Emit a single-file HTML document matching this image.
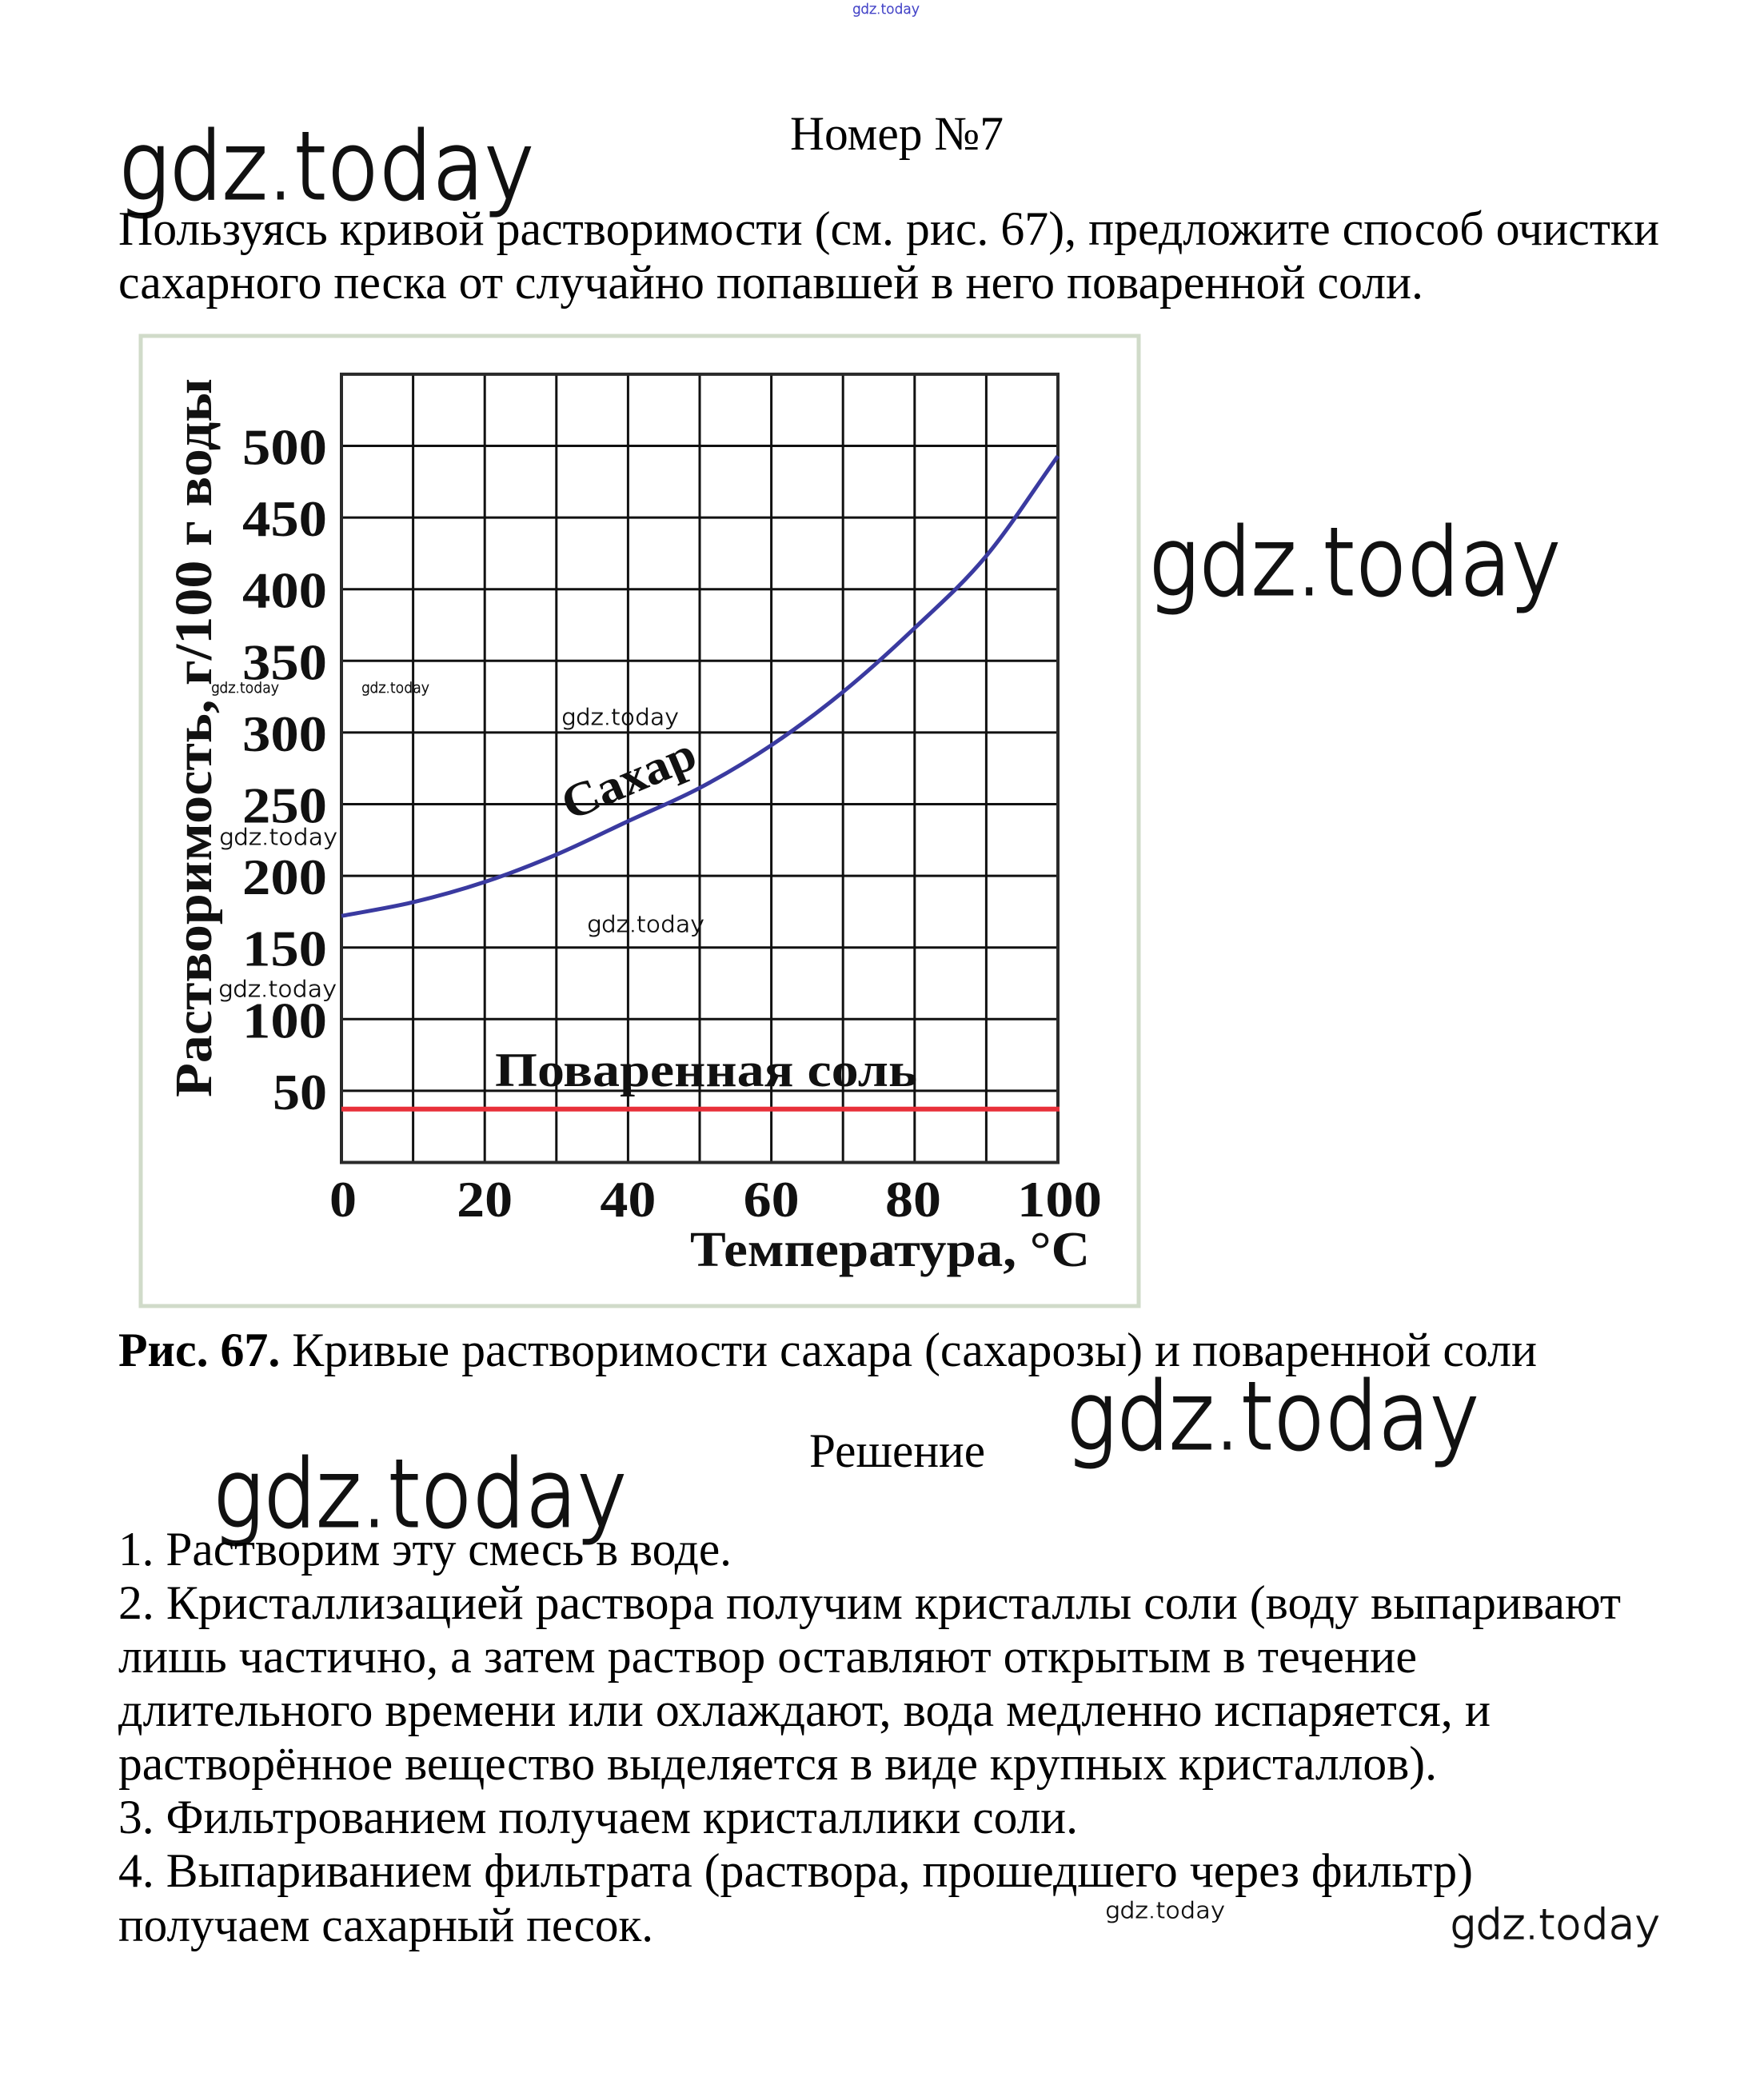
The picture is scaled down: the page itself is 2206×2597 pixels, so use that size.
<!DOCTYPE html>
<html>
<head>
<meta charset="utf-8">
<style>
html,body{margin:0;padding:0;background:#fff;}
svg{display:block;}
.t{font-family:"Liberation Serif","DejaVu Serif",serif;font-size:60px;fill:#000;}
.c{font-family:"Liberation Serif","DejaVu Serif",serif;font-weight:bold;fill:#111;}
.w{font-family:"DejaVu Sans","Liberation Sans",sans-serif;font-weight:200;fill:#111;stroke:#111;}
.wb{stroke-width:3px;}
.wm{stroke-width:1.6px;}
.ws{stroke-width:0.8px;}
</style>
</head>
<body>
<svg width="2206" height="2597" viewBox="0 0 2206 2597" xmlns="http://www.w3.org/2000/svg">
<rect x="0" y="0" width="2206" height="2597" fill="#fff"/>

<!-- top tiny watermark -->
<text class="w ws" x="1066" y="17" font-size="17" textLength="84" lengthAdjust="spacingAndGlyphs" style="fill:#4646c8;stroke:#4646c8">gdz.today</text>

<!-- header -->
<text class="t" x="988" y="187" textLength="267" lengthAdjust="spacingAndGlyphs">Номер №7</text>
<text class="w wb" x="148" y="248" font-size="116" textLength="520" lengthAdjust="spacingAndGlyphs">gdz.today</text>
<text class="t" x="148" y="306" textLength="1927" lengthAdjust="spacingAndGlyphs">Пользуясь кривой растворимости (см. рис. 67), предложите способ очистки</text>
<text class="t" x="148" y="373" textLength="1632" lengthAdjust="spacingAndGlyphs">сахарного песка от случайно попавшей в него поваренной соли.</text>

<!-- chart frame -->
<rect x="176" y="420" width="1248" height="1213" fill="#fff" stroke="#d0dbc9" stroke-width="5"/>

<!-- grid -->
<g stroke="#111" stroke-width="3">
<line x1="516.6" y1="467.9" x2="516.6" y2="1453.5"/>
<line x1="606.2" y1="467.9" x2="606.2" y2="1453.5"/>
<line x1="695.8" y1="467.9" x2="695.8" y2="1453.5"/>
<line x1="785.4" y1="467.9" x2="785.4" y2="1453.5"/>
<line x1="875" y1="467.9" x2="875" y2="1453.5"/>
<line x1="964.6" y1="467.9" x2="964.6" y2="1453.5"/>
<line x1="1054.2" y1="467.9" x2="1054.2" y2="1453.5"/>
<line x1="1143.8" y1="467.9" x2="1143.8" y2="1453.5"/>
<line x1="1233.4" y1="467.9" x2="1233.4" y2="1453.5"/>
<line x1="427" y1="1363.9" x2="1323" y2="1363.9"/>
<line x1="427" y1="1274.3" x2="1323" y2="1274.3"/>
<line x1="427" y1="1184.7" x2="1323" y2="1184.7"/>
<line x1="427" y1="1095.1" x2="1323" y2="1095.1"/>
<line x1="427" y1="1005.5" x2="1323" y2="1005.5"/>
<line x1="427" y1="915.9" x2="1323" y2="915.9"/>
<line x1="427" y1="826.3" x2="1323" y2="826.3"/>
<line x1="427" y1="736.7" x2="1323" y2="736.7"/>
<line x1="427" y1="647.1" x2="1323" y2="647.1"/>
<line x1="427" y1="557.5" x2="1323" y2="557.5"/>
</g>
<rect x="427" y="467.9" width="896" height="985.6" fill="none" stroke="#2a2a2a" stroke-width="4"/>

<!-- salt line -->
<line x1="427" y1="1386.7" x2="1325" y2="1386.7" stroke="#e8303a" stroke-width="6"/>

<!-- sugar curve -->
<path d="M427,1145.3 C456.9,1139.6 486.7,1135.2 516.6,1128.1 C546.5,1121.0 576.3,1112.7 606.2,1102.8 C636.1,1092.9 665.9,1081.3 695.8,1068.6 C725.7,1055.9 755.5,1040.7 785.4,1026.8 C815.3,1012.9 845.1,1001.0 875,985.2 C904.9,969.4 934.7,951.8 964.6,931.8 C994.5,911.8 1024.3,889.6 1054.2,865.2 C1084.1,840.8 1113.9,813.7 1143.8,785.3 C1173.7,757.0 1203.5,731.0 1233.4,695.1 C1263.3,659.3 1293.1,611.8 1323,570.2" fill="none" stroke="#3a3aa0" stroke-width="5"/>

<!-- y tick labels -->
<g class="c" font-size="64" text-anchor="end">
<text x="409" y="580.5" textLength="106" lengthAdjust="spacingAndGlyphs">500</text>
<text x="409" y="670.1" textLength="106" lengthAdjust="spacingAndGlyphs">450</text>
<text x="409" y="759.7" textLength="106" lengthAdjust="spacingAndGlyphs">400</text>
<text x="409" y="849.3" textLength="106" lengthAdjust="spacingAndGlyphs">350</text>
<text x="409" y="938.9" textLength="106" lengthAdjust="spacingAndGlyphs">300</text>
<text x="409" y="1028.5" textLength="106" lengthAdjust="spacingAndGlyphs">250</text>
<text x="409" y="1118.1" textLength="106" lengthAdjust="spacingAndGlyphs">200</text>
<text x="409" y="1207.7" textLength="106" lengthAdjust="spacingAndGlyphs">150</text>
<text x="409" y="1297.3" textLength="106" lengthAdjust="spacingAndGlyphs">100</text>
<text x="409" y="1386.9" textLength="68" lengthAdjust="spacingAndGlyphs">50</text>
</g>

<!-- x tick labels -->
<g class="c" font-size="64" text-anchor="middle">
<text x="429" y="1521" textLength="34" lengthAdjust="spacingAndGlyphs">0</text>
<text x="606.2" y="1521" textLength="70" lengthAdjust="spacingAndGlyphs">20</text>
<text x="785.4" y="1521" textLength="70" lengthAdjust="spacingAndGlyphs">40</text>
<text x="964.6" y="1521" textLength="70" lengthAdjust="spacingAndGlyphs">60</text>
<text x="1142" y="1521" textLength="70" lengthAdjust="spacingAndGlyphs">80</text>
<text x="1325" y="1521" textLength="106" lengthAdjust="spacingAndGlyphs">100</text>
</g>

<!-- axis titles -->
<text class="c" x="863" y="1583" font-size="62" textLength="500" lengthAdjust="spacingAndGlyphs">Температура, °C</text>
<text class="c" font-size="66" text-anchor="middle" transform="translate(264,922.5) rotate(-90)" x="0" y="0" textLength="899" lengthAdjust="spacingAndGlyphs">Растворимость, г/100 г воды</text>

<!-- series labels -->
<text class="c" font-size="60" text-anchor="middle" transform="translate(788,978) rotate(-23)" x="0" y="15" textLength="176" lengthAdjust="spacingAndGlyphs">Сахар</text>
<text class="c" x="619" y="1358" font-size="60" textLength="528" lengthAdjust="spacingAndGlyphs">Поваренная соль</text>

<!-- chart watermarks -->
<text class="w ws" x="264" y="866" font-size="18" textLength="85" lengthAdjust="spacingAndGlyphs">gdz.today</text>
<text class="w ws" x="452" y="866" font-size="18" textLength="85" lengthAdjust="spacingAndGlyphs">gdz.today</text>
<text class="w ws" x="702" y="906" font-size="28" textLength="147" lengthAdjust="spacingAndGlyphs">gdz.today</text>
<text class="w ws" x="274" y="1056" font-size="28" textLength="148" lengthAdjust="spacingAndGlyphs">gdz.today</text>
<text class="w ws" x="734" y="1165" font-size="28" textLength="147" lengthAdjust="spacingAndGlyphs">gdz.today</text>
<text class="w ws" x="273" y="1246" font-size="28" textLength="148" lengthAdjust="spacingAndGlyphs">gdz.today</text>

<!-- right big watermark -->
<text class="w wb" x="1436" y="743" font-size="116" textLength="516" lengthAdjust="spacingAndGlyphs">gdz.today</text>

<!-- caption -->
<text class="t" x="148" y="1708" textLength="1774" lengthAdjust="spacingAndGlyphs"><tspan font-weight="bold">Рис. 67.</tspan> Кривые растворимости сахара (сахарозы) и поваренной соли</text>

<text class="t" x="1012" y="1834" textLength="220" lengthAdjust="spacingAndGlyphs">Решение</text>
<text class="w wb" x="1333" y="1811" font-size="116" textLength="517" lengthAdjust="spacingAndGlyphs">gdz.today</text>
<text class="w wb" x="266" y="1908" font-size="116" textLength="518" lengthAdjust="spacingAndGlyphs">gdz.today</text>

<!-- solution text -->
<text class="t" x="148" y="1957" textLength="767" lengthAdjust="spacingAndGlyphs">1. Растворим эту смесь в воде.</text>
<text class="t" x="148" y="2024" textLength="1879" lengthAdjust="spacingAndGlyphs">2. Кристаллизацией раствора получим кристаллы соли (воду выпаривают</text>
<text class="t" x="148" y="2091" textLength="1624" lengthAdjust="spacingAndGlyphs">лишь частично, а затем раствор оставляют открытым в течение</text>
<text class="t" x="148" y="2158" textLength="1716" lengthAdjust="spacingAndGlyphs">длительного времени или охлаждают, вода медленно испаряется, и</text>
<text class="t" x="148" y="2225" textLength="1649" lengthAdjust="spacingAndGlyphs">растворённое вещество выделяется в виде крупных кристаллов).</text>
<text class="t" x="148" y="2292" textLength="1200" lengthAdjust="spacingAndGlyphs">3. Фильтрованием получаем кристаллики соли.</text>
<text class="t" x="148" y="2359" textLength="1694" lengthAdjust="spacingAndGlyphs">4. Выпариванием фильтрата (раствора, прошедшего через фильтр)</text>
<text class="t" x="148" y="2427" textLength="669" lengthAdjust="spacingAndGlyphs">получаем сахарный песок.</text>

<!-- bottom watermarks -->
<text class="w ws" x="1382" y="2398" font-size="28" textLength="150" lengthAdjust="spacingAndGlyphs">gdz.today</text>
<text class="w wm" x="1813" y="2424" font-size="52" textLength="263" lengthAdjust="spacingAndGlyphs">gdz.today</text>
</svg>
</body>
</html>
